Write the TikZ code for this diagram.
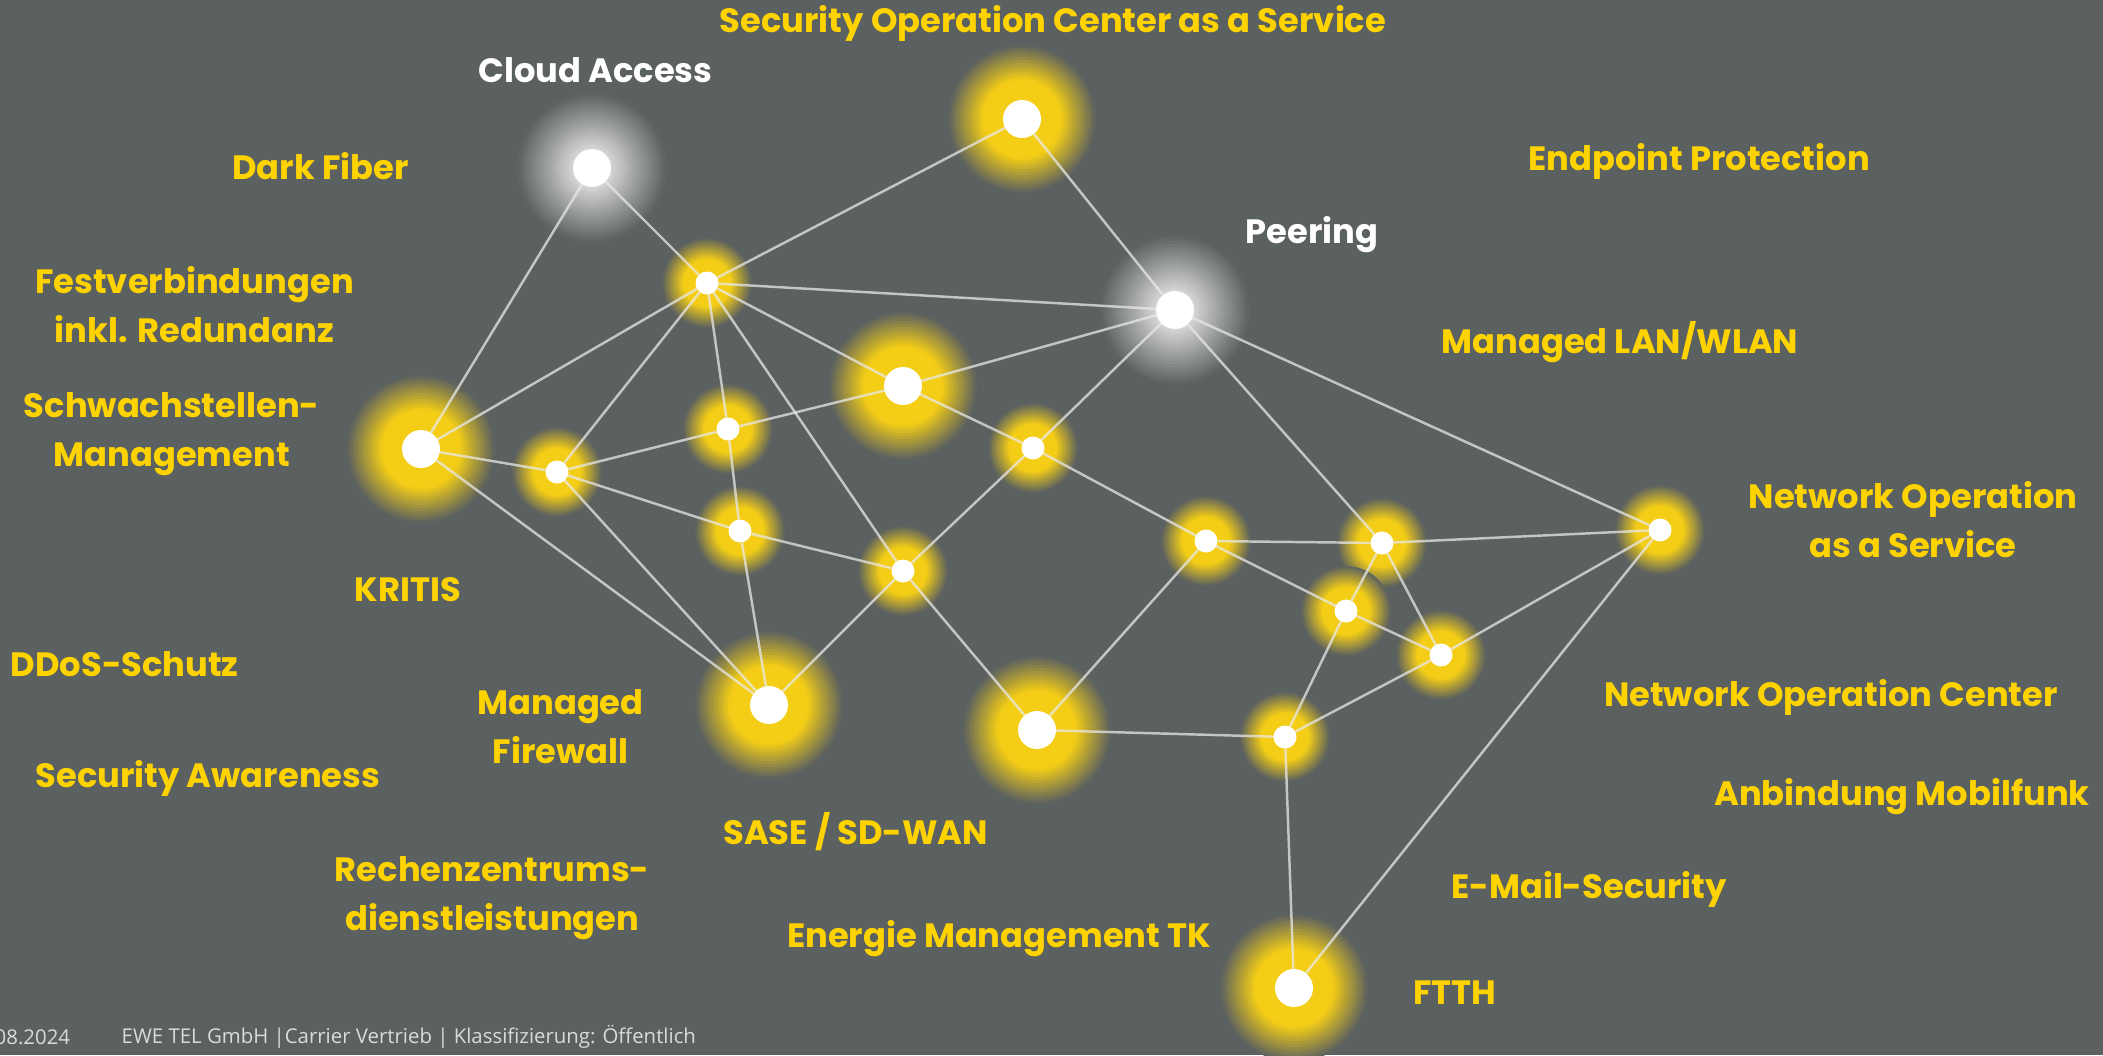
\documentclass[tikz,border=0pt]{standalone}
\usepackage{fontspec}
\setmainfont{Poppins}
\newfontfamily\footfont{Open Sans}
\usepackage{xcolor}
\usepackage{tikz}
\usetikzlibrary{backgrounds}
\usepackage{tkz-berge}

\definecolor{slate}{HTML}{5B6060}
\definecolor{ewegelb}{HTML}{FFD300}
\definecolor{glowgelb}{HTML}{F4CE16}
\definecolor{glowgrau}{HTML}{D4D4D4}
\definecolor{kante}{HTML}{E8E8E8}
\definecolor{fusstext}{HTML}{DADADA}

\pgfdeclarelayer{bg}
\pgfdeclarelayer{glows}
\pgfdeclarelayer{edges}
\pgfsetlayers{bg,glows,edges,main}

\begin{document}
\begin{tikzpicture}
        \tikzset{VertexStyle/.style={circle, fill=white, draw=none, inner sep=0pt, minimum size=3.8mm}}
        \tikzset{EdgeStyle/.style={draw=kante, line width=0.7pt, draw opacity=0.75}}  % plain links
        \tikzset{lbl/.style={font=\bfseries\fontsize{9.6}{14}\selectfont, text=ewegelb, align=center}}
        \tikzset{foot/.style={font=\footfont\fontsize{5.8}{7}\selectfont, text=fusstext, inner sep=0pt}}

        \useasboundingbox (0,0) rectangle (21.03,10.55);
        \begin{pgfonlayer}{bg}
          \fill[slate] (0,0) rectangle (21.03,10.55);
        \end{pgfonlayer}

        % big hubs
        \Vertex[x = 5.92,  y = 8.87, NoLabel]{CL}
        \Vertex[x = 10.22, y = 9.36, NoLabel]{SO}
        \Vertex[x = 11.75, y = 7.45, NoLabel]{PE}
        \Vertex[x = 9.03,  y = 6.69, NoLabel]{B}
        \Vertex[x = 4.21,  y = 6.06, NoLabel]{C}
        \Vertex[x = 7.69,  y = 3.50, NoLabel]{I}
        \Vertex[x = 10.37, y = 3.25, NoLabel]{J}
        \Vertex[x = 12.94, y = 0.67, NoLabel]{Q}

        % small hubs
        \tikzset{VertexStyle/.append style={minimum size=2.3mm}}
        \Vertex[x = 7.07,  y = 7.72, NoLabel]{A}
        \Vertex[x = 5.57,  y = 5.83, NoLabel]{D}
        \Vertex[x = 7.28,  y = 6.26, NoLabel]{E}
        \Vertex[x = 7.40,  y = 5.24, NoLabel]{F}
        \Vertex[x = 9.03,  y = 4.84, NoLabel]{G}
        \Vertex[x = 10.33, y = 6.07, NoLabel]{H}
        \Vertex[x = 12.06, y = 5.14, NoLabel]{K}
        \Vertex[x = 13.82, y = 5.12, NoLabel]{L}
        \Vertex[x = 13.46, y = 4.44, NoLabel]{M}
        \Vertex[x = 14.41, y = 4.00, NoLabel]{N}
        \Vertex[x = 12.85, y = 3.18, NoLabel]{O}
        \Vertex[x = 16.60, y = 5.25, NoLabel]{P}

        % halos, built from rings that fade into the background
        \begin{pgfonlayer}{glows}
          \foreach \v/\r/\c/\k in {CL/0.75/glowgrau/135, PE/0.75/glowgrau/135,
              SO/0.74/glowgelb/210, B/0.74/glowgelb/210, C/0.74/glowgelb/210,
              I/0.74/glowgelb/210, J/0.74/glowgelb/210, Q/0.74/glowgelb/210,
              A/0.45/glowgelb/210, D/0.45/glowgelb/210, E/0.45/glowgelb/210,
              F/0.45/glowgelb/210, G/0.45/glowgelb/210, H/0.45/glowgelb/210,
              K/0.45/glowgelb/210, L/0.45/glowgelb/210, M/0.45/glowgelb/210,
              N/0.45/glowgelb/210, O/0.45/glowgelb/210, P/0.45/glowgelb/210}
            \foreach \s in {1.00,0.96,...,0.28}
            {
              \pgfmathsetmacro\pct{min(100,\k*(1.02-\s))}
              \pgfmathsetmacro\rr{\s*\r}
              \fill[\c!\pct!slate] (\v) circle (\rr);
            }
        \end{pgfonlayer}

        % links
        \begin{pgfonlayer}{edges}
          \Edge(CL)(C) \Edge(CL)(A) \Edge(A)(SO) \Edge(A)(PE) \Edge(A)(C)
          \Edge(A)(D) \Edge(A)(E) \Edge(A)(B) \Edge(A)(G)
          \Edge(SO)(PE) \Edge(PE)(B) \Edge(PE)(H) \Edge(PE)(L) \Edge(PE)(P)
          \Edge(C)(D) \Edge(C)(I) \Edge(D)(E) \Edge(D)(F) \Edge(D)(I)
          \Edge(E)(B) \Edge(E)(F) \Edge(F)(G) \Edge(F)(I) \Edge(B)(H)
          \Edge(G)(H) \Edge(G)(J) \Edge(G)(I)
          \Edge(H)(K) \Edge(K)(J) \Edge(K)(L) \Edge(K)(M)
          \Edge(J)(O) \Edge(L)(P) \Edge(L)(M) \Edge(L)(N) \Edge(M)(N)
          \Edge(M)(O) \Edge(N)(O) \Edge(N)(P) \Edge(O)(Q) \Edge(P)(Q)
        \end{pgfonlayer}

        % product names
        \node[lbl] (soc)       at (10.53,10.32) {Security Operation Center as a Service};
        \node[lbl, text=white] (cloud) at (5.955,9.85) {Cloud Access};
        \node[lbl] (darkfiber) at (3.205,8.89) {Dark Fiber};
        \node[lbl] (endpoint)  at (16.99,8.94) {Endpoint Protection};
        \node[lbl, text=white] (peering) at (13.12,8.20) {Peering};
        \node[lbl] (festv)     at (1.945,7.50) {Festverbindungen\\inkl. Redundanz};
        \node[lbl] (lan)       at (16.20,7.13) {Managed LAN/WLAN};
        \node[lbl] (schwach)   at (1.717,6.21) {Schwachstellen-\\Management};
        \node[lbl] (noaas)     at (19.13,5.35) {Network Operation\\as a Service};
        \node[lbl] (kritis)    at (4.077,4.65) {KRITIS};
        \node[lbl] (ddos)      at (1.247,3.91) {DDoS-Schutz};
        \node[lbl] (firewall)  at (5.606,3.28) {Managed\\Firewall};
        \node[lbl] (noc)       at (18.31,3.58) {Network Operation Center};
        \node[lbl] (awareness) at (2.079,2.77) {Security Awareness};
        \node[lbl] (mobil)     at (19.02,2.58) {Anbindung Mobilfunk};
        \node[lbl] (sase)      at (8.557,2.235) {SASE / SD-WAN};
        \node[lbl] (rz)        at (4.922,1.57) {Rechenzentrums-\\dienstleistungen};
        \node[lbl] (email)     at (15.89,1.66) {E-Mail-Security};
        \node[lbl] (energie)   at (9.99,1.16) {Energie Management TK};
        \node[lbl] (ftth)      at (14.55,0.625) {FTTH};

        % footer
        \node[foot, anchor=west] (datum) at (-0.06,0.18) {08.2024};
        \node[foot, anchor=west] (impressum) at (1.21,0.18) {EWE TEL GmbH |Carrier Vertrieb | Klassifizierung: Öffentlich};

      \end{tikzpicture}
\end{document}
